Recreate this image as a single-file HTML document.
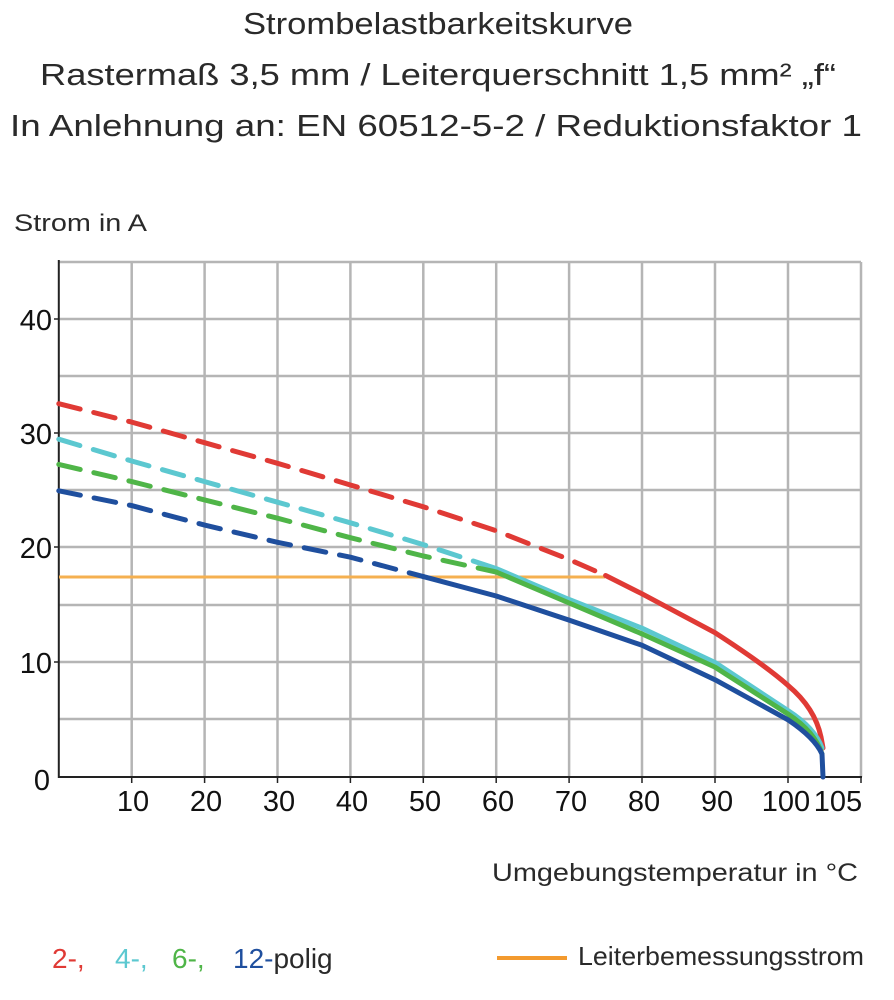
<!DOCTYPE html>
<html><head><meta charset="utf-8"><style>
html,body{margin:0;padding:0;background:#fff;}
svg{display:block;}
</style></head><body>
<svg width="894" height="1000" viewBox="0 0 894 1000" xmlns="http://www.w3.org/2000/svg" font-family="Liberation Sans, sans-serif">
<g fill="#2a2a2a" font-size="31">
<text x="243" y="34" textLength="390" lengthAdjust="spacingAndGlyphs">Strombelastbarkeitskurve</text>
<text x="40" y="85" textLength="796" lengthAdjust="spacingAndGlyphs">Rastermaß 3,5 mm / Leiterquerschnitt 1,5 mm² „f“</text>
<text x="10" y="136" textLength="852" lengthAdjust="spacingAndGlyphs">In Anlehnung an: EN 60512-5-2 / Reduktionsfaktor 1</text>
</g>
<text x="14" y="231" font-size="24" fill="#2a2a2a" textLength="133" lengthAdjust="spacingAndGlyphs">Strom in A</text>
<!-- grid -->
<g stroke="#b5b5b5" stroke-width="2.5" fill="none">
<line x1="131.7" y1="262" x2="131.7" y2="777"/><line x1="204.6" y1="262" x2="204.6" y2="777"/>
<line x1="277.5" y1="262" x2="277.5" y2="777"/><line x1="350.4" y1="262" x2="350.4" y2="777"/>
<line x1="423.3" y1="262" x2="423.3" y2="777"/><line x1="496.2" y1="262" x2="496.2" y2="777"/>
<line x1="569.1" y1="262" x2="569.1" y2="777"/><line x1="642" y1="262" x2="642" y2="777"/>
<line x1="715" y1="262" x2="715" y2="777"/><line x1="788" y1="262" x2="788" y2="777"/>
<line x1="861" y1="262" x2="861" y2="777"/>
<line x1="59" y1="262" x2="861" y2="262"/><line x1="59" y1="319" x2="861" y2="319"/>
<line x1="59" y1="376" x2="861" y2="376"/><line x1="59" y1="433" x2="861" y2="433"/>
<line x1="59" y1="490" x2="861" y2="490"/><line x1="59" y1="547" x2="861" y2="547"/>
<line x1="59" y1="605" x2="861" y2="605"/><line x1="59" y1="662" x2="861" y2="662"/>
<line x1="59" y1="719" x2="861" y2="719"/>
</g>
<!-- axes -->
<g stroke="#222" stroke-width="2" fill="none">
<line x1="58.8" y1="260" x2="58.8" y2="778"/>
<line x1="58" y1="777" x2="862" y2="777"/>
</g>
<g stroke="#222" stroke-width="1.5">
<line x1="54" y1="319" x2="59" y2="319"/><line x1="54" y1="433" x2="59" y2="433"/><line x1="54" y1="547" x2="59" y2="547"/><line x1="54" y1="662" x2="59" y2="662"/>
<line x1="131.7" y1="777" x2="131.7" y2="783"/><line x1="204.6" y1="777" x2="204.6" y2="783"/><line x1="277.5" y1="777" x2="277.5" y2="783"/><line x1="350.4" y1="777" x2="350.4" y2="783"/><line x1="423.3" y1="777" x2="423.3" y2="783"/><line x1="496.2" y1="777" x2="496.2" y2="783"/><line x1="569.1" y1="777" x2="569.1" y2="783"/><line x1="642" y1="777" x2="642" y2="783"/><line x1="715" y1="777" x2="715" y2="783"/><line x1="788" y1="777" x2="788" y2="783"/><line x1="861" y1="777" x2="861" y2="783"/>
</g>
<g fill="#111" font-size="29" text-anchor="end">
<text x="52" y="330">40</text><text x="52" y="444">30</text><text x="52" y="558">20</text><text x="52" y="673">10</text><text x="50" y="790">0</text>
</g>
<g fill="#111" font-size="29" text-anchor="middle">
<text x="133" y="811">10</text><text x="206" y="811">20</text><text x="279" y="811">30</text><text x="352" y="811">40</text><text x="425" y="811">50</text><text x="498" y="811">60</text><text x="571" y="811">70</text><text x="644" y="811">80</text><text x="717" y="811">90</text><text x="786" y="811">100</text><text x="838" y="811">105</text>
</g>
<text x="492" y="881" font-size="25" fill="#2a2a2a" textLength="366" lengthAdjust="spacingAndGlyphs">Umgebungstemperatur in °C</text>
<!-- orange -->
<line x1="59" y1="577" x2="605" y2="577" stroke="#f5b050" stroke-width="3"/>
<g fill="none" stroke-width="5" stroke-linecap="round" stroke-linejoin="round">
<path d="M58.8,403.7 L131.7,422.1 L204.6,442.7 L277.5,463.3 L350.4,485 L423.3,506.8 L496.2,530.8 L569.1,559.5 L605.6,575.5" stroke="#e03a35" stroke-dasharray="22,14"/>
<path d="M605.6,575.5 L642,593.8 L715,632.7 Q765,665 788,685.4 Q815,708 821,737 L823,748" stroke="#e03a35"/>
<path d="M58.8,439.2 L131.7,461 L204.6,481.6 L277.5,502.2 L350.4,522.8 L423.3,544.6 L496.2,568.6" stroke="#5cc8d0" stroke-dasharray="22,14"/>
<path d="M496.2,568.6 L569.1,599.5 L642,628.2 L715,662.5 L788,710.6 Q815,728 822,748" stroke="#5cc8d0"/>
<path d="M58.8,464.4 L131.7,481.6 L204.6,499.9 L277.5,518.2 L350.4,537.7 L423.3,556 L496.2,572" stroke="#4fb548" stroke-dasharray="22,14"/>
<path d="M496.2,572 L569.1,603 L642,633.9 L715,667.1 L788,714 Q815,732 822,754" stroke="#4fb548"/>
<path d="M58.8,490.8 L131.7,505.6 L204.6,525.1 L277.5,542.3 L350.4,557.2 L423.3,576.6" stroke="#1f4f9e" stroke-dasharray="22,14"/>
<path d="M423.3,576.6 L496.2,596 L569.1,620.1 L642,645.3 L715,679.7 L788,719.8 Q815,738 822,754 L823,777" stroke="#1f4f9e"/>
</g>
<!-- legend -->
<g font-size="28">
<text x="52" y="968" fill="#e03a35">2-,</text>
<text x="115" y="968" fill="#5cc8d0">4-,</text>
<text x="172" y="968" fill="#4fb548">6-,</text>
<text x="233" y="968" fill="#1f4f9e">12-<tspan fill="#2a2a2a">polig</tspan></text>
<text x="578" y="965" fill="#2a2a2a" font-size="26" textLength="286" lengthAdjust="spacingAndGlyphs">Leiterbemessungsstrom</text>
</g>
<line x1="497" y1="958" x2="567" y2="958" stroke="#f39a2e" stroke-width="4"/>
</svg>
</body></html>
